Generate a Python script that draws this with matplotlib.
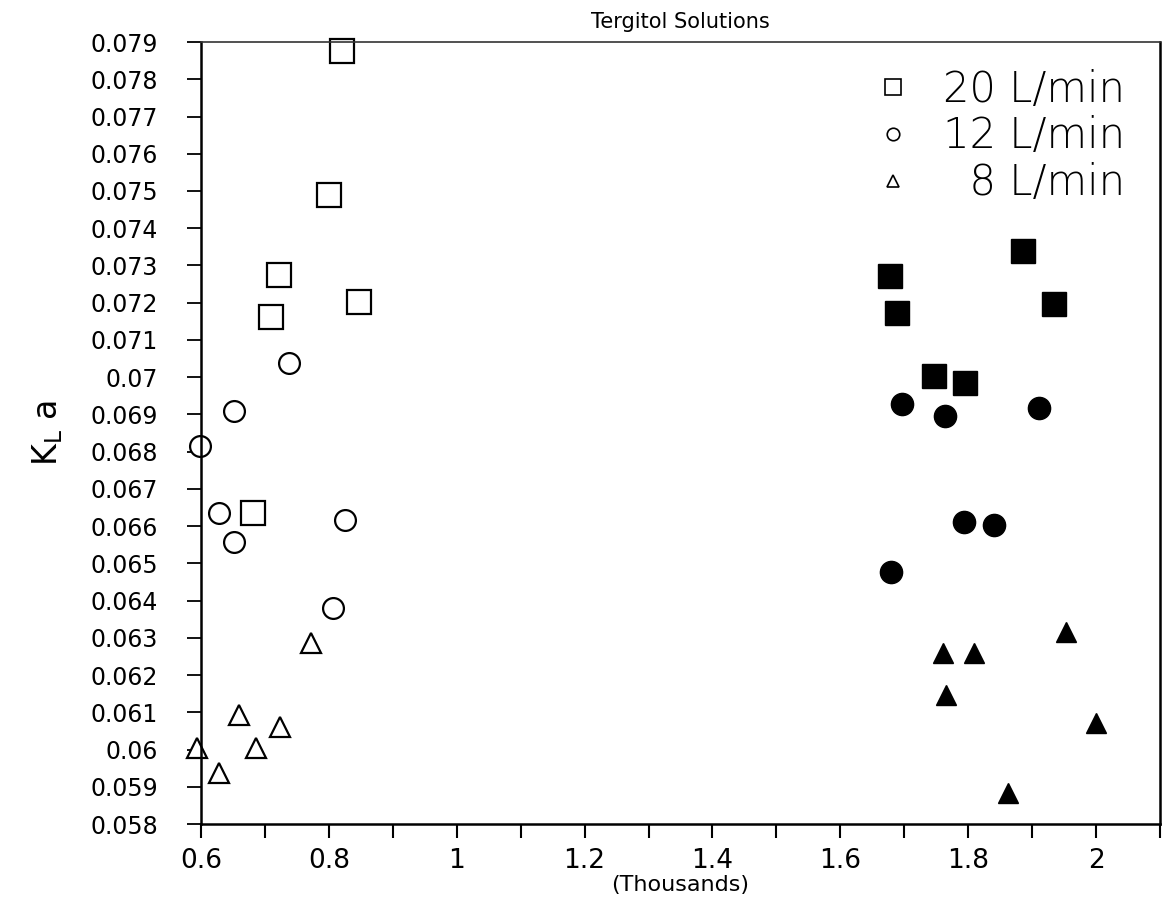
#!/usr/bin/env python3
# -*- coding: utf-8 -*-

import matplotlib
matplotlib.use("Agg")
import matplotlib.pyplot as plt
from matplotlib.ticker import MultipleLocator, FuncFormatter
from matplotlib.lines import Line2D

plt.rcParams['font.family'] = ['DejaVu Sans']

# values (x in thousands)
open_sq_x = [0.820, 0.800, 0.722, 0.709, 0.847, 0.681]
open_sq_y = [0.07876, 0.07489, 0.07274, 0.07161, 0.07201, 0.06636]

open_ci_x = [0.738, 0.651, 0.598, 0.628, 0.652, 0.825, 0.807]
open_ci_y = [0.07037, 0.06910, 0.06816, 0.06636, 0.06558, 0.06617, 0.06381]

open_tr_x = [0.772, 0.659, 0.723, 0.686, 0.594, 0.628]
open_tr_y = [0.06287, 0.06093, 0.06061, 0.06004, 0.06004, 0.05937]

fill_sq_x = [1.886, 1.677, 1.689, 1.934, 1.747, 1.795]
fill_sq_y = [0.07338, 0.07271, 0.07171, 0.07196, 0.07002, 0.06983]

fill_ci_x = [1.697, 1.763, 1.911, 1.794, 1.841, 1.680]
fill_ci_y = [0.06927, 0.06897, 0.06916, 0.06612, 0.06604, 0.06478]

fill_tr_x = [1.953, 1.761, 1.809, 1.766, 2.000, 1.862]
fill_tr_y = [0.06316, 0.06260, 0.06260, 0.06147, 0.06072, 0.05883]

legend_labels = ['20 L/min', '12 L/min', '\u20078 L/min']


fig = plt.figure(figsize=(11.63, 8.98), dpi=100)
ax = fig.add_axes([0.1728, 0.0824, 0.9974 - 0.1728, 0.9532 - 0.0824])

# open markers
ax.plot(open_sq_x, open_sq_y, ls='none', marker='s', ms=17, mfc='white', mec='black', mew=1.6, clip_on=False)
ax.plot(open_ci_x, open_ci_y, ls='none', marker='o', ms=15, mfc='white', mec='black', mew=1.6, clip_on=False)
ax.plot(open_tr_x, open_tr_y, ls='none', marker='^', ms=15, mfc='white', mec='black', mew=1.6, clip_on=False)
# filled markers
ax.plot(fill_sq_x, fill_sq_y, ls='none', marker='s', ms=17, color='black', clip_on=False)
ax.plot(fill_ci_x, fill_ci_y, ls='none', marker='o', ms=16, color='black', clip_on=False)
ax.plot(fill_tr_x, fill_tr_y, ls='none', marker='^', ms=15, color='black', clip_on=False)

ax.set_xlim(0.6, 2.1)
ax.set_ylim(0.058, 0.079)

ax.xaxis.set_major_locator(MultipleLocator(0.2))
ax.xaxis.set_minor_locator(MultipleLocator(0.1))
ax.yaxis.set_major_locator(MultipleLocator(0.001))
ax.xaxis.set_major_formatter(FuncFormatter(lambda v, p: f"{v:g}"))
ax.yaxis.set_major_formatter(FuncFormatter(lambda v, p: f"{v:.3f}".rstrip('0')))

ax.tick_params(axis='y', direction='out', length=10, width=1.3, pad=21, labelsize=17)
ax.tick_params(axis='x', which='both', direction='out', length=10, width=1.5, pad=7, labelsize=19,
               labelfontfamily='Liberation Sans Narrow')

for side in ['left', 'bottom', 'right']:
    ax.spines[side].set_linewidth(1.8)
ax.spines['top'].set_linewidth(1.2)
ax.spines['top'].set_color('#333333')

ax.set_xlabel('(Thousands)', fontsize=16, labelpad=1)
ax.set_ylabel(r'$\mathregular{K_L}$ a', fontsize=24, labelpad=18)
ax.set_title('Tergitol Solutions', fontsize=15, pad=10)

handles = [
    Line2D([], [], ls='none', marker='s', ms=12, mfc='white', mec='black', mew=1.2),
    Line2D([], [], ls='none', marker='o', ms=9, mfc='white', mec='black', mew=1.2),
    Line2D([], [], ls='none', marker='^', ms=9, mfc='white', mec='black', mew=1.2),
]
leg = ax.legend(handles, legend_labels, loc='upper right', bbox_to_anchor=(0.99, 0.998),
                frameon=False, prop={'family': 'DejaVu Sans', 'weight': 'light', 'size': 30},
                handlelength=0.6, handletextpad=0.9, labelspacing=0.14, borderaxespad=0.2)

plt.savefig('out.png', dpi=100)
